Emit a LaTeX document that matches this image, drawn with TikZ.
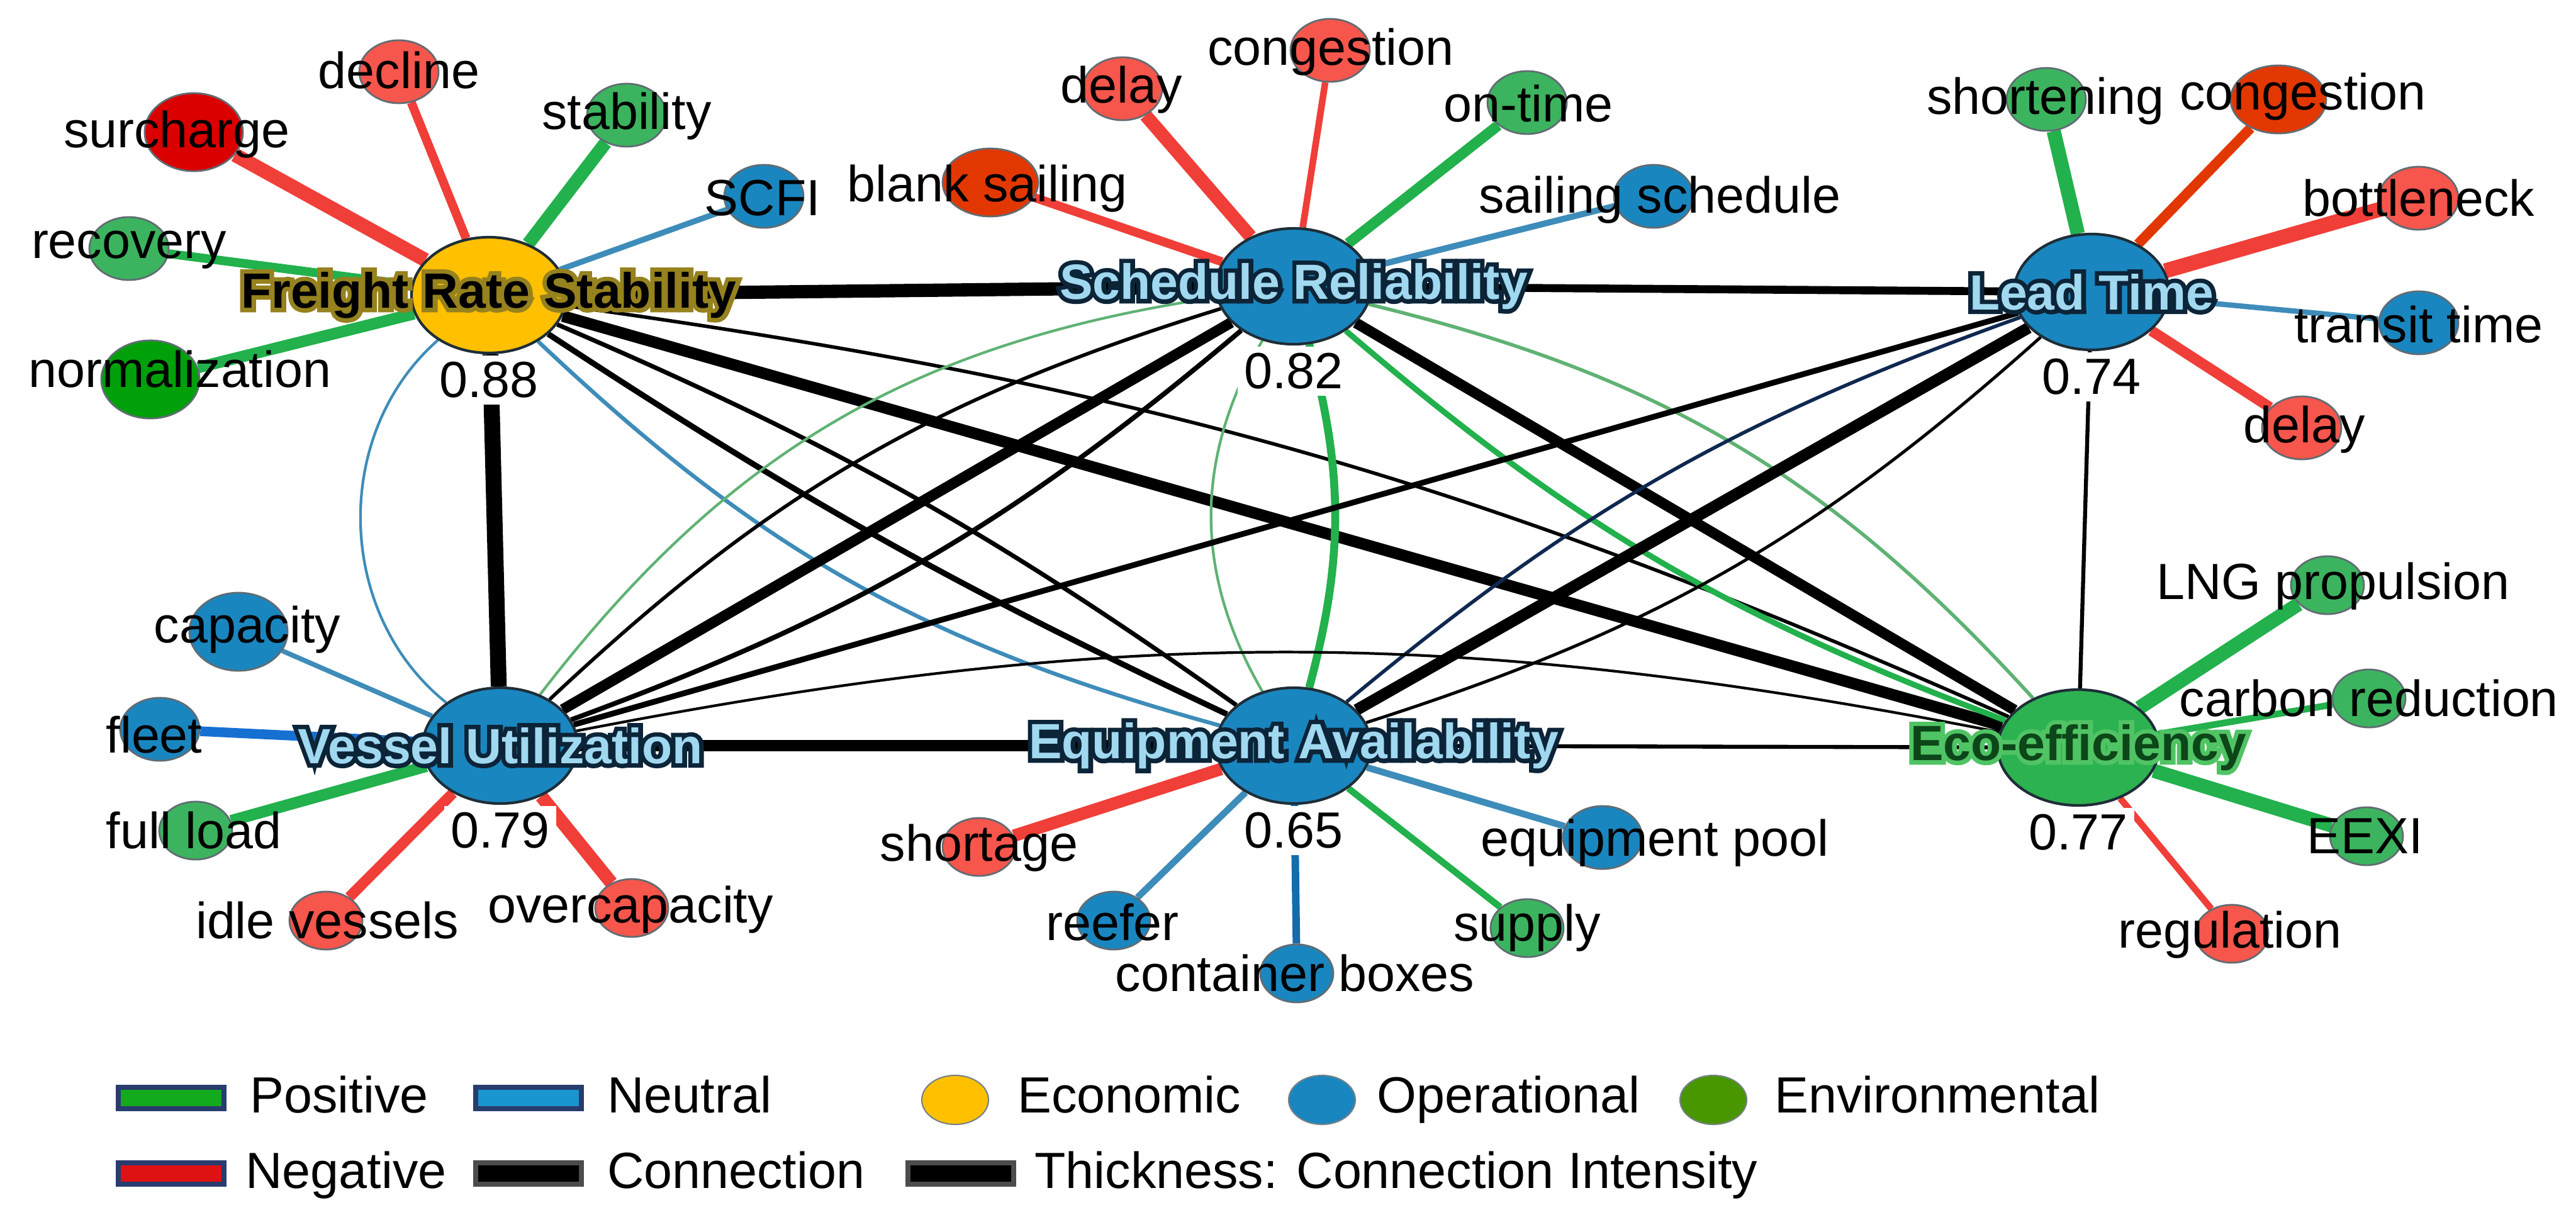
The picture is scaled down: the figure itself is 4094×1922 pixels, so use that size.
\documentclass[tikz,border=0pt]{standalone}
\usepackage{fontspec}
\setmainfont{Liberation Sans}
\usetikzlibrary{shapes.geometric,positioning}

\definecolor{econ}{RGB}{255,192,0}
\definecolor{oper}{RGB}{26,134,191}
\definecolor{envi}{RGB}{44,178,80}
\definecolor{satgreen}{RGB}{60,180,95}
\definecolor{satred}{RGB}{246,86,76}
\definecolor{deepred}{RGB}{218,0,0}
\definecolor{burnt}{RGB}{226,56,0}
\definecolor{deepgreen}{RGB}{0,160,10}
\definecolor{posline}{RGB}{34,177,76}
\definecolor{paleline}{RGB}{95,178,115}
\definecolor{negline}{RGB}{240,62,56}
\definecolor{neuline}{RGB}{62,140,185}
\definecolor{navyline}{RGB}{15,40,80}
\definecolor{fleetblue}{RGB}{22,112,210}
\definecolor{boxblue}{RGB}{20,108,172}
\definecolor{paleblue}{RGB}{160,216,240}
\definecolor{inkblue}{RGB}{12,36,56}
\definecolor{olivehalo}{RGB}{150,130,30}
\definecolor{ecotext}{RGB}{12,70,25}
\definecolor{ecohalo}{RGB}{80,195,100}
\definecolor{legpos}{RGB}{20,170,30}
\definecolor{legneu}{RGB}{25,150,205}
\definecolor{legneg}{RGB}{222,18,18}
\definecolor{legenv}{RGB}{72,150,0}
\definecolor{legframe}{RGB}{40,60,110}
\definecolor{rim}{RGB}{30,45,55}

\pgfdeclarelayer{edges}
\pgfsetlayers{edges,main}

% text with a halo: halo colour, text
\newcommand{\halotext}[2]{\rlap{\color{#1}\special{pdf:literal direct 2 w 2 Tr}#2\special{pdf:literal direct 0 Tr}}#2}

\tikzset{
  hub/.style={ellipse, draw=rim, line width=0.6pt, inner sep=0pt,
              minimum width=1.23cm, minimum height=0.92cm},
  sat/.style={ellipse, draw=rim!70, line width=0.4pt, inner sep=0pt,
              minimum width=0.63cm, minimum height=0.5cm},
  smallsat/.style={sat, minimum width=0.58cm, minimum height=0.46cm},
  widesat/.style={sat, minimum width=0.76cm, minimum height=0.54cm},
  bigsat/.style={sat, minimum width=0.78cm, minimum height=0.62cm},
  lab/.style={font=\fontsize{11.5}{13}\selectfont, inner sep=0pt},
  val/.style={lab, fill=white, inner sep=1.5pt},
  legtxt/.style={lab, anchor=base west},
  hubtxt/.style={font=\fontsize{11.2}{13}\selectfont\bfseries, inner sep=0pt},
  posedge/.style={draw=posline},
  negedge/.style={draw=negline},
  neuedge/.style={draw=neuline},
  burntedge/.style={draw=burnt},
  fleetedge/.style={draw=fleetblue},
  boxedge/.style={draw=boxblue},
  swatch/.style={rectangle, draw=legframe, line width=1.2pt, inner sep=0pt,
                 minimum width=0.84cm, minimum height=0.17cm},
  legdot/.style={ellipse, draw=rim!60, line width=0.3pt, inner sep=0pt,
                 minimum width=0.53cm, minimum height=0.39cm}
}

\begin{document}
\begin{tikzpicture}[x=0.05mm, y=-0.05mm]
    \useasboundingbox (0,0) rectangle (4094,1922);

    % dimension nodes
    \node[hub, fill=econ] (frs) at (777,469) {};
    \node[hub, fill=oper] (sr) at (2056,455) {};
    \node[hub, fill=oper] (lt) at (3324,464) {};
    \node[hub, fill=oper] (vu) at (795,1185) {};
    \node[hub, fill=oper] (ea) at (2056,1185) {};
    \node[hub, fill=envi, minimum width=1.28cm] (eco) at (3303,1188) {};

    % keyword nodes
    \foreach \nm/\px/\py/\sz/\col in {
        sur/308/210/bigsat/deepred, dec/634/114/sat/satred,
        stab/996/183/sat/satgreen, scfi/1214/312/sat/oper,
        rec/205/395/sat/satgreen, norm/239/603/bigsat/deepgreen,
        blank/1574/290/widesat/burnt, delS/1784/141/sat/satred,
        congS/2114/80/sat/satred, ontime/2427/163/sat/satgreen,
        sail/2628/312/sat/oper, short/3252/158/sat/satgreen,
        congL/3621/158/widesat/burnt, bottle/3844/315/sat/satred,
        transit/3844/513/sat/oper, delL/3658/680/sat/satred,
        cap/379/1004/bigsat/oper, fleet/254/1159/sat/oper,
        full/311/1320/smallsat/satgreen, idle/518/1463/smallsat/satred,
        over/1004/1443/smallsat/satred, shortg/1556/1346/smallsat/satred,
        reefer/1770/1463/smallsat/oper, boxes/2061/1547/smallsat/oper,
        supply/2427/1475/smallsat/satgreen, pool/2547/1331/sat/oper,
        lng/3699/930/smallsat/satgreen, carbon/3765/1110/smallsat/satgreen,
        eexi/3761/1329/smallsat/satgreen, reg/3547/1484/smallsat/satred}
    \node[\sz, fill=\col] (\nm) at (\px,\py) {};

    \begin{pgfonlayer}{edges}
    \foreach \a/\b/\st/\w in {
        frs/sur/negedge/3.2, frs/dec/negedge/2.0, frs/stab/posedge/3.0,
        frs/scfi/neuedge/1.3, frs/rec/posedge/2.0, frs/norm/posedge/2.6,
        sr/blank/negedge/2.0, sr/delS/negedge/3.0, sr/congS/negedge/1.5,
        sr/ontime/posedge/2.4, sr/sail/neuedge/1.4,
        lt/short/posedge/3.2, lt/congL/burntedge/2.3, lt/bottle/negedge/3.4,
        lt/transit/neuedge/1.2, lt/delL/negedge/2.4,
        vu/cap/neuedge/1.1, vu/fleet/fleetedge/2.2, vu/full/posedge/2.6,
        vu/idle/negedge/2.4, vu/over/negedge/3.0,
        ea/shortg/negedge/2.8, ea/reefer/neuedge/1.5, ea/boxes/boxedge/1.7,
        ea/supply/posedge/1.5, ea/pool/neuedge/1.5,
        eco/lng/posedge/3.2, eco/carbon/posedge/1.5, eco/eexi/posedge/3.2,
        eco/reg/negedge/1.5}
    \draw[\st, line width=\w pt] (\a) -- (\b);

    % connections between dimensions
    \draw[line width=3pt] (frs) -- (sr);
    \draw[line width=1.8pt] (sr) -- (lt);
    \draw[line width=3.6pt] (frs) -- (vu);
    \draw[line width=2.6pt] (vu) -- (ea);
    \draw[line width=0.9pt] (ea) -- (eco);
    \draw[line width=0.9pt] (lt) -- (eco);
    \draw[line width=2.6pt] (frs) -- (eco);
    \draw[line width=0.8pt] (frs) to[bend left=8] (eco);
    \draw[line width=1.3pt] (frs) to[bend right=4] (ea);
    \draw[line width=1.0pt] (frs) to[bend left=6] (ea);
    \draw[neuedge, line width=0.9pt] (frs) to[bend right=14] (ea);
    \draw[neuedge, line width=0.6pt] (frs) to[bend right=50] (vu);
    \draw[line width=2.4pt] (sr) -- (vu);
    \draw[line width=0.8pt] (sr) to[bend right=13] (vu);
    \draw[draw=paleline, line width=0.6pt] (sr) to[bend right=22] (vu);
    \draw[line width=1.1pt] (sr) to[bend left=10] (vu);
    \draw[draw=paleline, line width=0.6pt] (sr) to[bend right=30] (ea);
    \draw[posedge, line width=1.8pt] (sr) to[bend left=15] (ea);
    \draw[line width=2.4pt] (sr) -- (eco);
    \draw[draw=paleline, line width=0.8pt] (sr) to[bend left=17] (eco);
    \draw[posedge, line width=1.3pt] (sr) to[bend right=10] (eco);
    \draw[line width=1.3pt] (vu) -- (lt);
    \draw[line width=2.6pt] (ea) -- (lt);
    \draw[draw=navyline, line width=0.8pt] (ea) to[bend left=10] (lt);
    \draw[line width=0.7pt] (ea) to[bend right=12] (lt);
    \draw[line width=0.6pt] (vu) to[bend left=11] (eco);
    \end{pgfonlayer}

    % scores
    \node[val, below=0pt of frs] (frs-v) {0.88};
    \node[val, below=0pt of sr] (sr-v) {0.82};
    \node[val, below=0pt of lt] (lt-v) {0.74};
    \node[val, below=0pt of vu] (vu-v) {0.79};
    \node[val, below=0pt of ea] (ea-v) {0.65};
    \node[val, below=0pt of eco] (eco-v) {0.77};

    \foreach \nm/\lx/\ly/\txt in {
        sur/281/214/surcharge, dec/634/112/decline, stab/996/185/stability,
        scfi/1212/315/SCFI, rec/205/397/recovery, norm/286/587/normalization,
        blank/1569/300/blank sailing, delS/1782/143/delay,
        congS/2115/83/congestion, ontime/2429/165/on-time,
        sail/2638/318/sailing schedule, short/3251/161/shortening,
        congL/3660/154/congestion, bottle/3844/315/bottleneck,
        transit/3844/516/transit time, delL/3662/683/delay,
        cap/393/1001/capacity, fleet/245/1168/fleet, full/308/1320/full load,
        idle/520/1463/idle vessels, over/1002/1446/overcapacity,
        shortg/1556/1348/shortage, reefer/1768/1466/reefer,
        boxes/2058/1547/container boxes, supply/2427/1475/supply,
        pool/2630/1340/equipment pool, lng/3708/932/LNG propulsion,
        carbon/3765/1110/carbon reduction, eexi/3759/1329/EEXI,
        reg/3544/1486/regulation}
    \node[lab] (\nm-t) at (\lx,\ly) {\txt};

    \node[hubtxt] (frs-t) at (frs) {\halotext{olivehalo}{Freight Rate Stability}};
    \node[hubtxt, text=paleblue] (sr-t) at (sr) {\halotext{inkblue}{Schedule Reliability}};
    \node[hubtxt, text=paleblue] (lt-t) at (lt) {\halotext{inkblue}{Lead Time}};
    \node[hubtxt, text=paleblue] (vu-t) at (vu) {\halotext{inkblue}{Vessel Utilization}};
    \node[hubtxt, text=paleblue] (ea-t) at (ea) {\halotext{inkblue}{Equipment Availability}};
    \node[hubtxt, text=ecotext] (eco-t) at (eco) {\halotext{ecohalo}{Eco-efficiency}};

    % legend
    \node[swatch, fill=legpos] (kpos) at (272,1745) {};
    \node[legtxt] (kpos-t) at (396,1768) {Positive};
    \node[swatch, fill=legneu] (kneu) at (840,1745) {};
    \node[legtxt] (kneu-t) at (964,1768) {Neutral};
    \node[legdot, fill=econ] (keco) at (1518,1748) {};
    \node[legtxt] (keco-t) at (1616,1768) {Economic};
    \node[legdot, fill=oper] (kope) at (2101,1748) {};
    \node[legtxt] (kope-t) at (2187,1768) {Operational};
    \node[legdot, fill=legenv] (kenv) at (2723,1748) {};
    \node[legtxt] (kenv-t) at (2819,1768) {Environmental};
    \node[swatch, fill=legneg] (kneg) at (272,1865) {};
    \node[legtxt] (kneg-t) at (389,1888) {Negative};
    \node[swatch, fill=black, draw=black!70] (kcon) at (840,1865) {};
    \node[legtxt] (kcon-t) at (964,1888) {Connection};
    \node[swatch, fill=black, draw=black!70] (kthk) at (1527,1865) {};
    \node[legtxt] (kthk-t) at (1643,1888) {Thickness: Connection Intensity};
\end{tikzpicture}
\end{document}
